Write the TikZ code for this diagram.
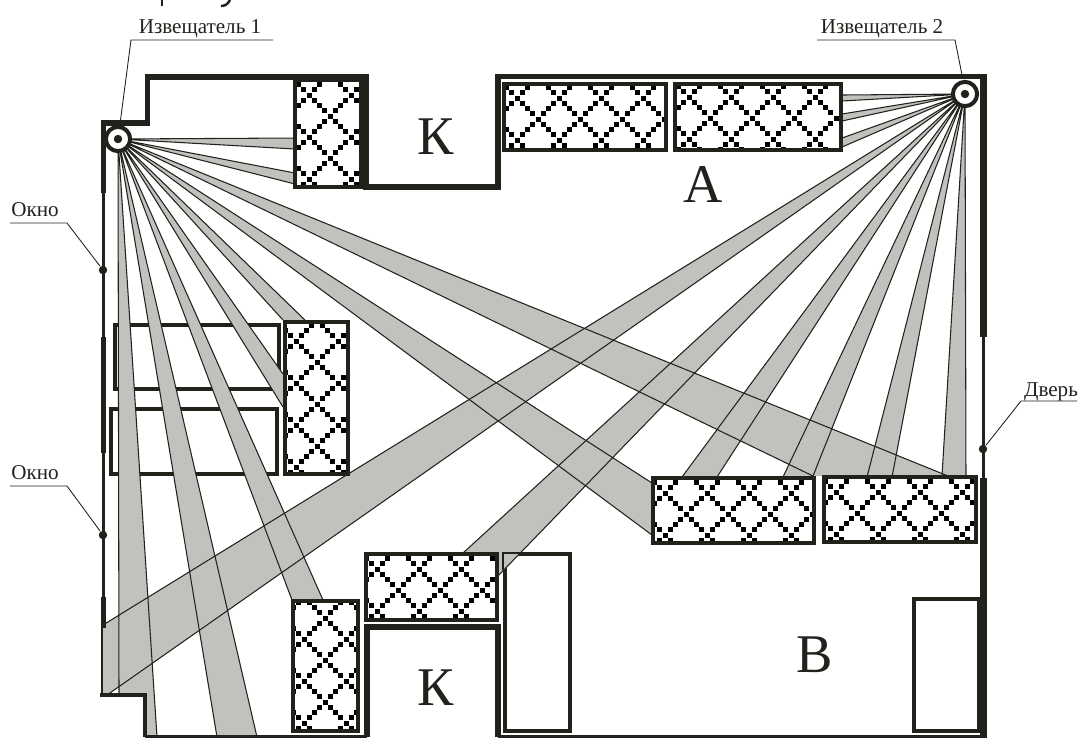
\documentclass[tikz,border=0pt]{standalone}
\usepackage{fontspec}
\setmainfont{Liberation Serif}
\definecolor{ink}{HTML}{23211C}
\definecolor{beamgray}{HTML}{C2C1BE}
\tikzset{
	wall/.style={draw=ink,line width=1.45pt,miter limit=10},
	thinwall/.style={draw=ink,line width=.9pt},
	plainbox/.style={draw=ink,line width=1.2pt},
	beamedge/.style={draw=ink,line width=.3pt},
	leader/.style={draw=ink,line width=.25pt},
	tag/.style={text=ink,font=\fontsize{6}{7}\selectfont,inner sep=0pt},
	room/.style={text=ink,font=\fontsize{15.5}{18}\selectfont,inner sep=0pt},
	pin/.style={circle,fill=ink,inner sep=0pt,minimum size=2.4pt},
	ring/.style={circle,draw=ink,fill=white,line width=1.15pt,inner sep=0pt,minimum size=6.9pt}
}
\newcommand{\hatchbox}[6]{
	\fill[white] (#1,#2) rectangle (#3,#4);
	\begin{scope}
		\clip (#1,#2) rectangle (#3,#4);
		\foreach \i in {-10,...,28}
			\foreach \m in {-5,...,5}{
				\fill[black] ({#5+5.25*\i-2.5},{#6+5.25*(\i+8*\m)-2.5}) rectangle +(5,5);
				\fill[black] ({#5+5.25*\i-2.5},{#6+5.25*(8*\m-\i)-2.5}) rectangle +(5,5);
			}
	\end{scope}
	\draw[plainbox] (#1,#2) rectangle (#3,#4);
}
\begin{document}
\begin{tikzpicture}[x=.01cm,y=-.01cm]
	\useasboundingbox (0,0) rectangle (1078,738);
	\coordinate (det1) at (118,139);
	\coordinate (det2) at (965,94);

	% tables and cabinets
	\draw[plainbox] (115,325) rectangle (279,389);
	\draw[plainbox] (111,409) rectangle (277,474);
	\draw[plainbox] (505,554) rectangle (570,731);
	\draw[plainbox] (914,599) rectangle (979,731);

	% beams: fill first, then edges so that they cross
	\fill[beamgray] (det1) -- (119,695) -- (145,695) -- (145,737) -- (157,737) -- cycle;
	\fill[beamgray] (det2) -- (103,625) -- (103,695) -- (107,695) -- cycle;
	\foreach \det/\ax/\ay/\bx/\by in {
		det1/295/138/295/149, det1/295/173/295/184, det1/813/476/948/476,
		det1/652/483/652/535, det1/283/320/305/320, det1/283/374/283/407,
		det1/292/600/323/600, det1/217/737/257/737, det2/842/95/842/101,
		det2/842/114/842/121, det2/842/138/842/147, det2/463/553/497/577,
		det2/682/477/717/477, det2/783/477/813/476, det2/867/477/892/477,
		det2/942/476/966/477}
		\fill[beamgray] (\det) -- (\ax,\ay) -- (\bx,\by) -- cycle;
	\foreach \det/\ax/\ay/\bx/\by in {
		det1/295/138/295/149, det1/295/173/295/184, det1/813/476/948/476,
		det1/652/483/652/535, det1/283/320/305/320, det1/283/374/283/407,
		det1/292/600/323/600, det1/217/737/257/737, det1/119/695/157/737,
		det2/842/95/842/101, det2/842/114/842/121, det2/842/138/842/147,
		det2/103/625/107/695, det2/463/553/497/577, det2/682/477/717/477,
		det2/783/477/813/476, det2/867/477/892/477, det2/942/476/966/477}
		\draw[beamedge] (\ax,\ay) -- (\det) -- (\bx,\by);
	\draw[beamedge] (503,570) -- (503,553) -- (522,553);

	% walls
	\draw[wall] (103.5,193) -- (103.5,123) -- (147.5,123) -- (147.5,77) -- (366,77) -- (366,187) -- (498,187) -- (498,76.5) -- (983.5,76.5);
	\draw[wall,line width=1.85pt] (983.5,74) -- (983.5,337);
	\draw[thinwall] (103.5,193) -- (103.5,597);
	\draw[wall,line width=1.55pt] (103.5,337) -- (103.5,453);
	\draw[wall] (103.5,597) -- (103.5,628);
	\draw[draw=ink,line width=.7pt] (102,628) -- (102,695);
	\draw[wall,line width=1.15pt] (100,695) -- (145,695) -- (145,737);
	\draw[thinwall] (145,736.5) -- (367,736.5);
	\draw[wall] (367,737) -- (367,627) -- (498,627) -- (498,737);
	\draw[thinwall] (498,736.5) -- (983,736.5);
	\draw[thinwall] (983.5,337) -- (983.5,478);
	\draw[wall,line width=1.85pt] (983.5,478) -- (983.5,738);

	% hatched furniture
	\hatchbox{295}{80}{361}{187}{330}{116}
	\hatchbox{504}{84}{666}{150}{538}{119}
	\hatchbox{675}{84}{841}{150}{710}{118}
	\hatchbox{285}{322}{348}{474}{317}{362}
	\hatchbox{293}{601}{358}{731}{325}{618}
	\hatchbox{366}{554}{497}{620}{398}{590}
	\hatchbox{653}{478}{814}{543}{686}{514}
	\hatchbox{824}{477}{976}{542}{857}{513}

	% detectors
	\node[ring] (ring1) at (det1) {};
	\node[ring] (ring2) at (det2) {};
	\node[pin] (core1) at (det1) {};
	\node[pin] (core2) at (det2) {};

	% room letters
	\node[room] (roomk1) at (436,137) {К};
	\node[room] (roomk2) at (436,688) {К};
	\node[room] (rooma) at (703,184) {А};
	\node[room] (roomb) at (815,655) {В};

	% labels with leaders
	\node[tag,anchor=base] (tag1) at (200,33) {Извещатель 1};
	\node[tag,anchor=base] (tag2) at (882,33) {Извещатель 2};
	\node[tag,anchor=base] (tagw1) at (35,216) {Окно};
	\node[tag,anchor=base] (tagw2) at (35,479) {Окно};
	\node[tag,anchor=base] (tagd) at (1051,396) {Дверь};
	\node[pin] (pinw1) at (103,270) {};
	\node[pin] (pinw2) at (103,535) {};
	\node[pin] (pind) at (983,449) {};
	\coordinate (wall2) at (962,75);
	\coordinate (wall1) at (120,124);
	\draw[leader] (273,40) -- (131,40) -- (wall1);
	\draw[leader] (817,40) -- (955,40) -- (wall2);
	\draw[leader] (10,223) -- (67,223) -- (pinw1);
	\draw[leader] (10,486) -- (67,486) -- (pinw2);
	\draw[leader] (1077,401) -- (1021,401) -- (pind);

	% cut off heading at the top edge
	\draw[draw=ink,line width=.7pt] (162,0) -- (162,6);
	\draw[draw=ink,line width=.7pt] (230,0) .. controls (228,4) and (225,6) .. (221,6);
\end{tikzpicture}
\end{document}
